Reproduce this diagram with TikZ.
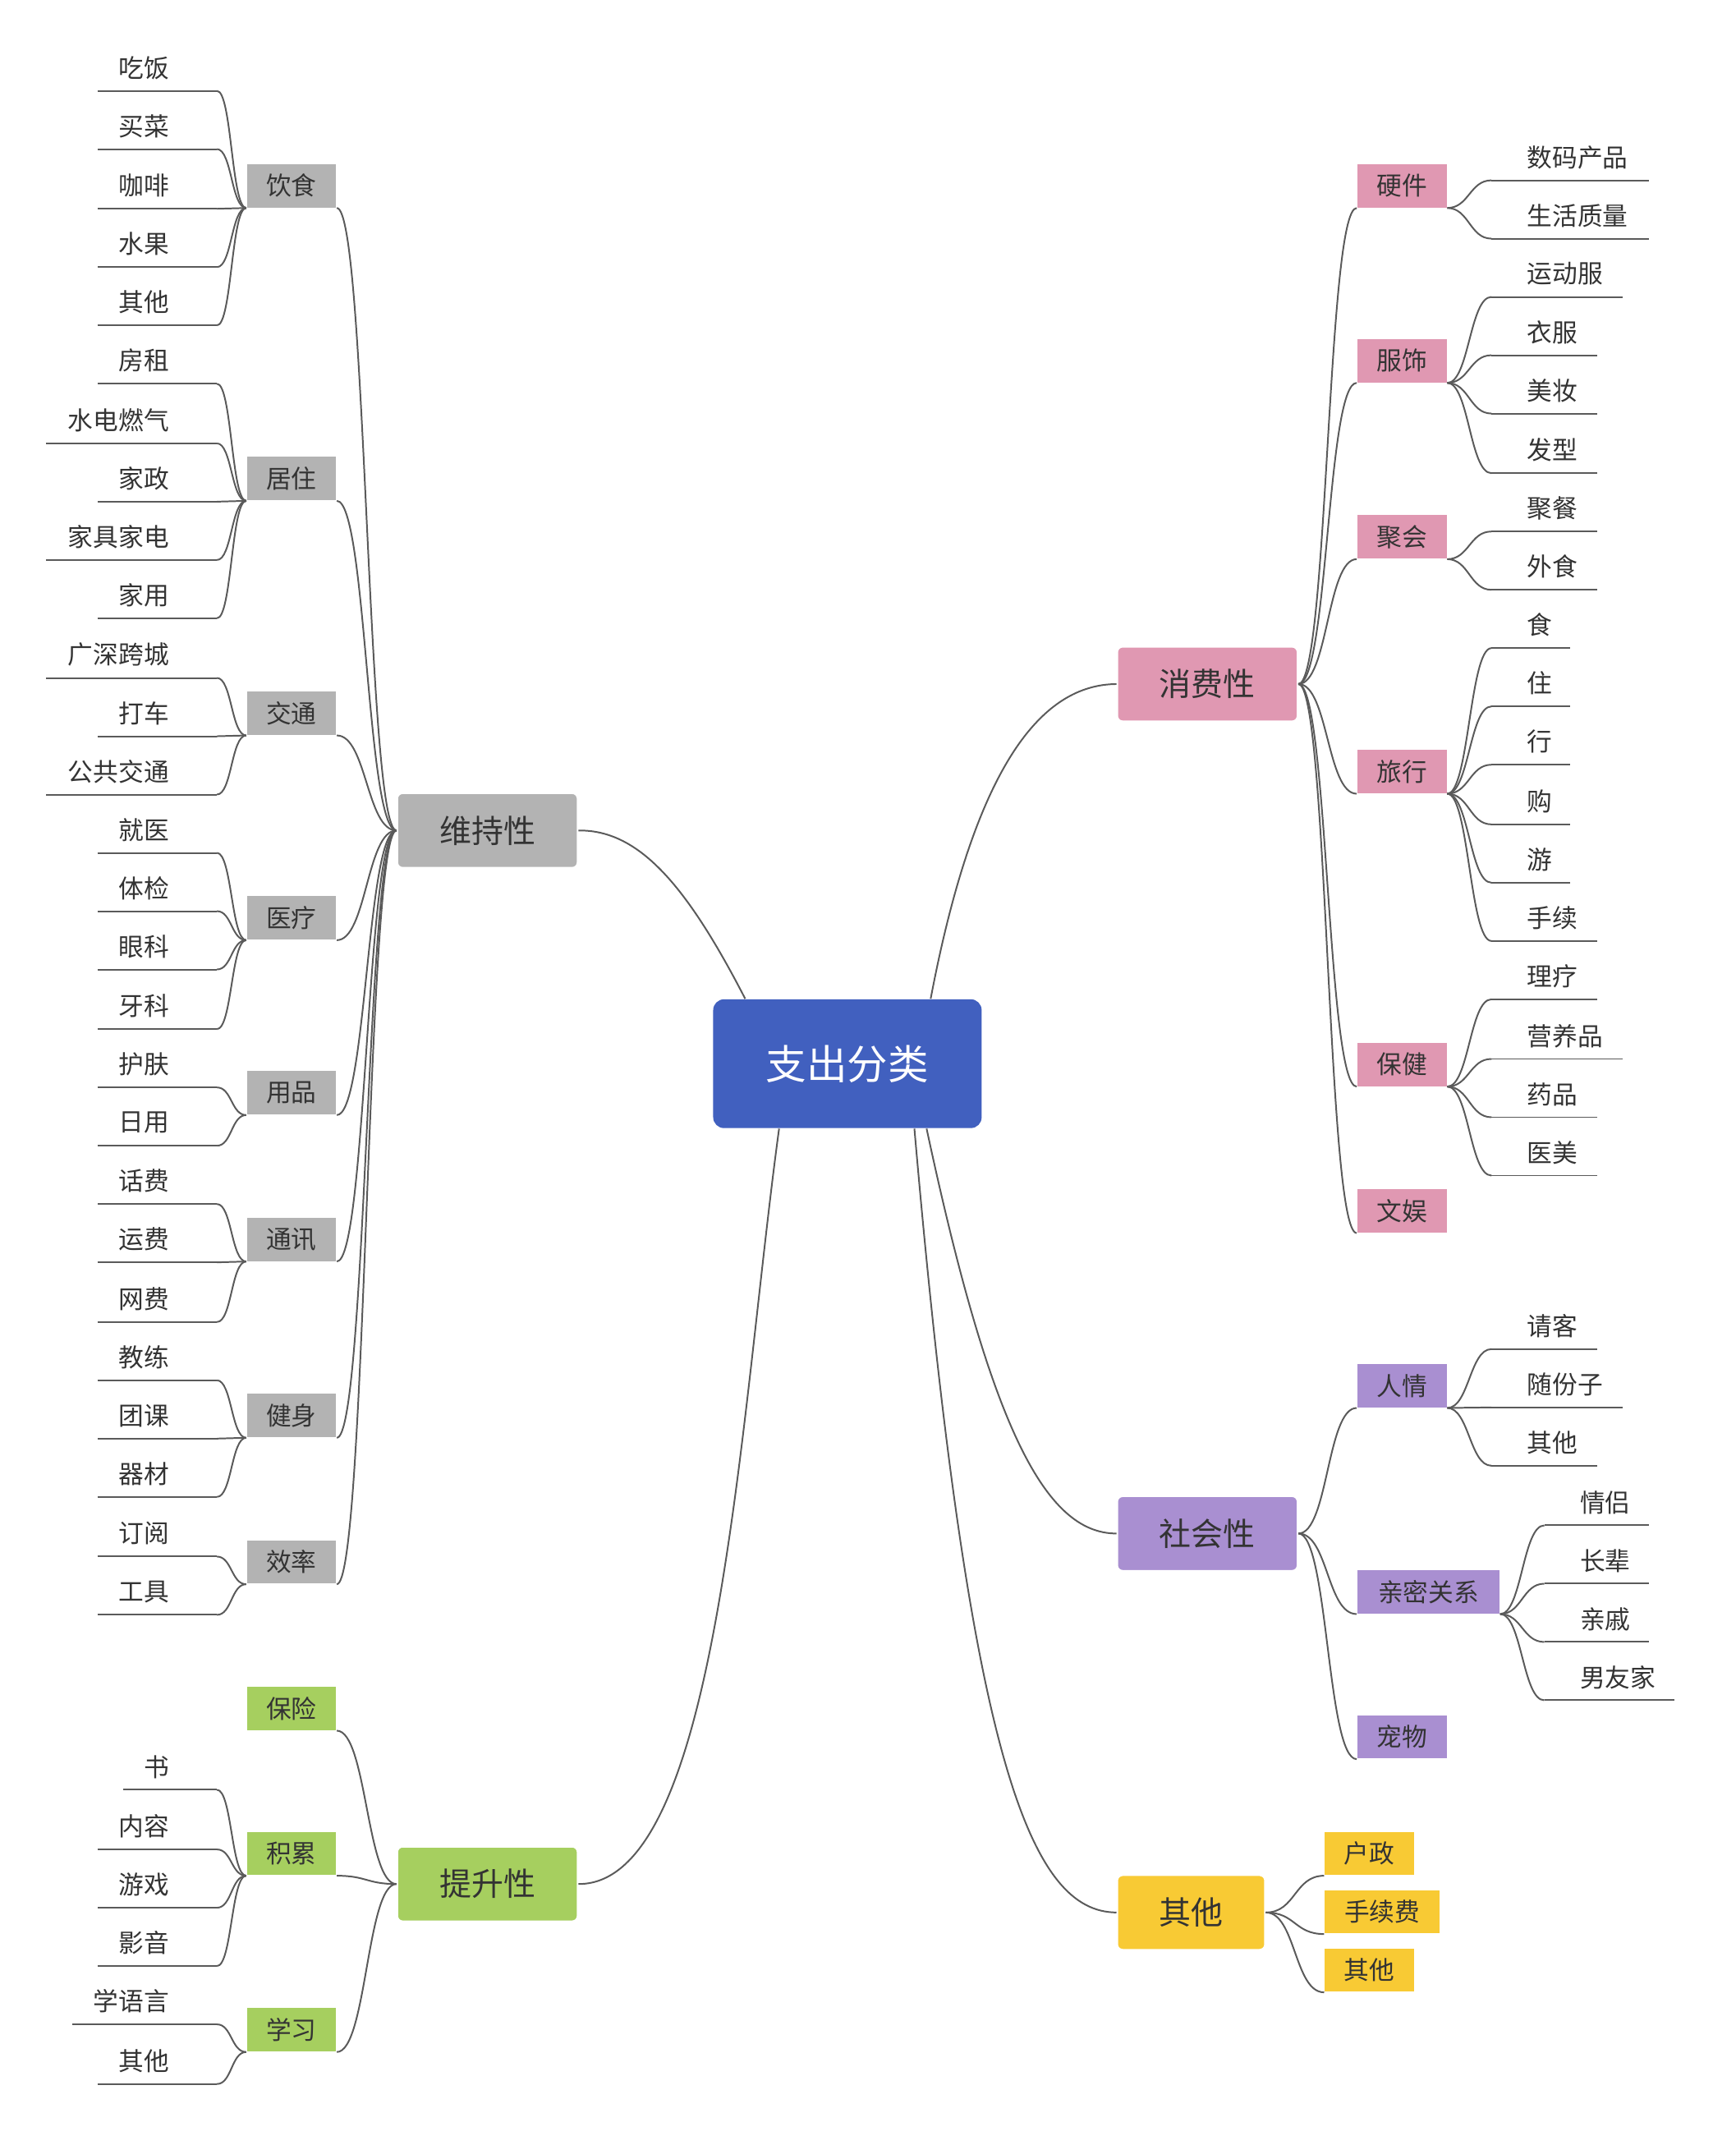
\documentclass[tikz,border=0pt]{standalone}
\usepackage{fontspec}
\setmainfont{Noto Sans CJK SC}
\definecolor{linec}{HTML}{5A5A5A}
\definecolor{textc}{HTML}{333333}
\definecolor{cgray}{HTML}{B3B3B3}
\definecolor{cgreen}{HTML}{A6CF5F}
\definecolor{cpink}{HTML}{E098B2}
\definecolor{cpurp}{HTML}{A98FD1}
\definecolor{cyell}{HTML}{F8CA34}
\definecolor{cblue}{HTML}{4160BF}
\tikzset{
 conn/.style={draw=linec,line width=0.6pt},
 leaf/.style={font=\fontsize{9.3}{11}\selectfont,text=textc,inner sep=0pt},
 sub/.style={font=\fontsize{9.3}{11}\selectfont,text=textc,inner sep=0pt,minimum height=16pt,minimum width=33pt},
 top/.style={font=\fontsize{11.8}{14}\selectfont,text=textc,inner sep=0pt,minimum height=27.5pt,minimum width=66.5pt,rounded corners=2pt,draw=white,line width=0.6pt},
}
\newcommand\mylgrp[5]{% name, label, y, colour, leaves
 \node[sub,fill=#4] (#1) at (215,#3) {#2};
 \foreach \t/\yy/\xs [count=\i] in {#5} {
  \node[leaf,anchor=east] (#1l\i) at (125,\yy) {\t};
  \coordinate (#1e\i) at (160,\yy+17);
  \coordinate (#1s\i) at (\xs,\yy+17);
  \draw[conn] (#1s\i) -- (#1e\i);
  \draw[conn] (#1.south west) .. controls +(-11,0) and +(11,0) .. (#1e\i);
 }}
\newcommand\myrgrp[8]{% name, label, y, colour, boxcx, boxw(pt), leafx, leaves(t/y/xe)
 \node[sub,fill=#4,minimum width=#6] (#1) at (#5,#3) {#2};
 \foreach \t/\yy/\xe [count=\i] in {#8} {
  \node[leaf,anchor=west] (#1l\i) at (#7,\yy) {\t};
  \coordinate (#1e\i) at (#7-26,\yy+17);
  \coordinate (#1s\i) at (\xe,\yy+17);
  \draw[conn] (#1e\i) -- (#1s\i);
  \draw[conn] (#1.south east) .. controls +(16,0) and +(-16,0) .. (#1e\i);
 }}
\begin{document}
\begin{tikzpicture}[x=0.5pt,y=-0.5pt]
\useasboundingbox (0,0) rectangle (1280,1582);
\node[fill=cblue,rounded corners=4pt,text=white,font=\fontsize{15}{18}\selectfont,minimum width=99pt,minimum height=47.5pt] (c) at (625,784.5) {支出分类};
\node[top,fill=cgray] (w) at (359.5,612.5) {维持性};
\node[top,fill=cgreen] (t) at (359.5,1389.5) {提升性};
\node[top,fill=cpink] (x) at (890.5,504.5) {消费性};
\node[top,fill=cpurp] (s) at (890.5,1131) {社会性};
\node[top,fill=cyell,minimum width=54.5pt] (o) at (878.5,1410.5) {其他};
\draw[conn] ([xshift=12pt]c.north west) .. controls (505,650) and (470,612) .. (w.east);
\draw[conn] ([xshift=24.5pt]c.south west) .. controls (545,1050) and (530,1390) .. (t.east);
\draw[conn] ([xshift=-19pt]c.north east) .. controls (720,560) and (770,505) .. (x.west);
\draw[conn] ([xshift=-20.5pt]c.south east) .. controls (730,1050) and (770,1131) .. (s.west);
\draw[conn] ([xshift=-25pt]c.south east) .. controls (715,1300) and (760,1410) .. (o.west);
% left groups
\mylgrp{a1}{饮食}{137}{cgray}{吃饭/50/72,买菜/93/72,咖啡/137/72,水果/180/72,其他/223/72}
\mylgrp{a2}{居住}{353}{cgray}{房租/266/72,水电燃气/310/34,家政/353/72,家具家电/396/34,家用/439/72}
\mylgrp{a3}{交通}{526}{cgray}{广深跨城/483/34,打车/526/72,公共交通/569/34}
\mylgrp{a4}{医疗}{677}{cgray}{就医/612/72,体检/655/72,眼科/698/72,牙科/742/72}
\mylgrp{a5}{用品}{806}{cgray}{护肤/785/72,日用/828/72}
\mylgrp{a6}{通讯}{914}{cgray}{话费/871/72,运费/914/72,网费/958/72}
\mylgrp{a7}{健身}{1044}{cgray}{教练/1001/72,团课/1044/72,器材/1087/72}
\mylgrp{a8}{效率}{1152}{cgray}{订阅/1131/72,工具/1174/72}
\foreach \n in {a1,a2,a3,a4,a5,a6,a7,a8}
 \draw[conn] (w.west) .. controls +(-22,0) and +(22,0) .. (\n.south east);
\node[sub,fill=cgreen] (b1) at (215,1260) {保险};
\mylgrp{b2}{积累}{1367}{cgreen}{书/1303/91,内容/1347/72,游戏/1390/72,影音/1433/72}
\mylgrp{b3}{学习}{1497}{cgreen}{学语言/1476/53,其他/1520/72}
\foreach \n in {b1,b2,b3}
 \draw[conn] (t.west) .. controls +(-22,0) and +(22,0) .. (\n.south east);
% right groups
\myrgrp{r1}{硬件}{137}{cpink}{1034}{33pt}{1126}{数码产品/116/1216,生活质量/159/1216}
\myrgrp{r2}{服饰}{266}{cpink}{1034}{33pt}{1126}{运动服/202/1197,衣服/245/1178,美妆/288/1178,发型/332/1178}
\myrgrp{r3}{聚会}{396}{cpink}{1034}{33pt}{1126}{聚餐/375/1178,外食/418/1178}
\myrgrp{r4}{旅行}{569}{cpink}{1034}{33pt}{1126}{食/461/1158,住/504/1158,行/547/1158,购/591/1158,游/634/1158,手续/677/1178}
\myrgrp{r5}{保健}{785}{cpink}{1034}{33pt}{1126}{理疗/720/1178,营养品/764/1197,药品/807/1178,医美/850/1178}
\node[sub,fill=cpink] (r6) at (1034,893) {文娱};
\foreach \n in {r1,r2,r3,r4,r5,r6}
 \draw[conn] (x.east) .. controls +(22,0) and +(-22,0) .. (\n.south west);
\myrgrp{p1}{人情}{1022}{cpurp}{1034}{33pt}{1126}{请客/978/1178,随份子/1021/1197,其他/1064/1178}
\myrgrp{p2}{亲密关系}{1174}{cpurp}{1053.5}{52.5pt}{1165}{情侣/1108/1216,长辈/1151/1216,亲戚/1194/1216,男友家/1237/1235}
\node[sub,fill=cpurp] (p3) at (1034,1281) {宠物};
\foreach \n in {p1,p2,p3}
 \draw[conn] (s.east) .. controls +(22,0) and +(-22,0) .. (\n.south west);
\node[sub,fill=cyell] (y1) at (1010,1367) {户政};
\node[sub,fill=cyell,minimum width=42.5pt] (y2) at (1019.5,1410) {手续费};
\node[sub,fill=cyell] (y3) at (1010,1453) {其他};
\foreach \n in {y1,y2,y3}
 \draw[conn] (o.east) .. controls +(22,0) and +(-22,0) .. (\n.south west);
\end{tikzpicture}
\end{document}
